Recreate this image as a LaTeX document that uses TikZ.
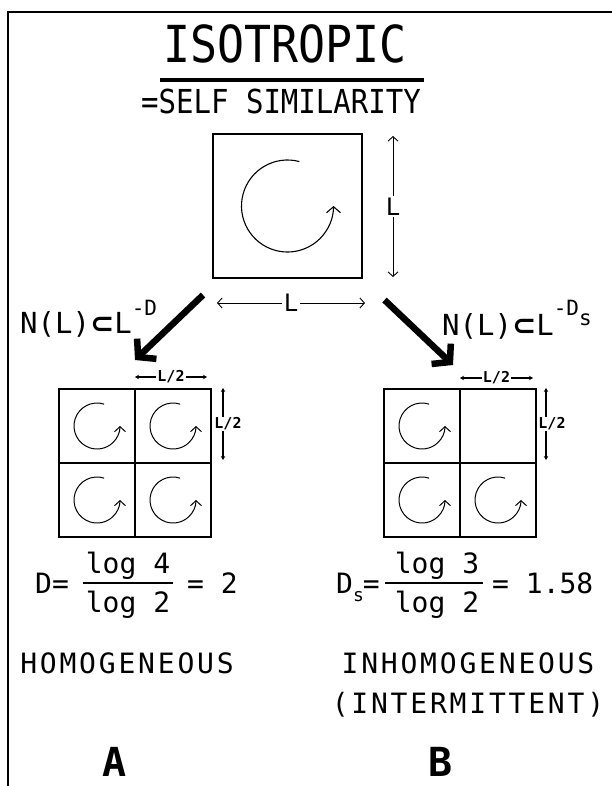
\documentclass[tikz,border=0pt]{standalone}
\usepackage{fontspec}
\usetikzlibrary{arrows.meta,calc}
\setmainfont{DejaVu Sans Mono}
\newfontfamily\plotn[FakeStretch=0.88]{DejaVu Sans Mono}
\newfontfamily\plotw[LetterSpace=10]{DejaVu Sans Mono}
\newfontfamily\symb{DejaVu Sans}
\newcommand{\fs}[1]{\fontsize{#1}{#1}\selectfont}

\begin{document}
\begin{tikzpicture}[x=1pt, y=1pt,
  borderline/.style={line width=1.4pt},
  sq/.style={draw, line width=1.4pt, inner sep=0pt, outer sep=0pt},
  cell/.style={sq, minimum width=76pt, minimum height=74pt},
  vort/.style={line width=1.1pt, -{Straight Barb[length=6pt,width=14pt]}},
  vortsmall/.style={line width=1pt, -{Straight Barb[length=5pt,width=11pt]}},
  dimarrow/.style={line width=0.9pt, {Straight Barb[length=4.5pt,width=10pt]}-{Straight Barb[length=4.5pt,width=10pt]}},
  halfdim/.style={line width=1.1pt, {Stealth[length=4pt,width=4.5pt]}-{Stealth[length=4pt,width=4.5pt]}},
  dimlab/.style={fill=white, inner sep=1.5pt, font=\fs{24}},
  halflab/.style={fill=white, inner sep=1pt, font=\bfseries\fs{15}},
  bigarrow/.style={line width=6.5pt, -{Straight Barb[length=12pt,width=28pt]}},
  lab/.style={font=\fs{29}, inner sep=0pt},
  frm/.style={font=\fs{28}, inner sep=0pt},
  fracbar/.style={line width=1.3pt},
  word/.style={font=\plotw\fs{28}},
  letter/.style={font=\bfseries\fs{40}},
]
\useasboundingbox (0,0) rectangle (612,-786);

% ------------------------------------------------------------ frame
\draw[borderline] (612,-12) -- (8,-12) -- (8,-786);

% ------------------------------------------------------------ title
\node[font=\plotn\fs{51}] (title) at (285,-44) {ISOTROPIC};
\node[font=\plotn\fs{33}] (sub) at (281,-101) {=SELF SIMILARITY};
\coordinate (ul) at (0,-80);
\draw[line width=4pt] (title.west |- ul) -- (sub.east |- ul);

% ------------------------------------------------------------ big eddy
\node[sq, minimum width=149pt, minimum height=144pt] (big) at (287.5,-206) {};
\draw[vort] ([shift={(75:46)}]big.center) arc[start angle=75, end angle=360, radius=46];
\draw[dimarrow] ([shift={(31pt,-2pt)}]big.north east) -- node[dimlab] (lv) {L}
  ([shift={(31pt,1pt)}]big.south east);
\draw[dimarrow] ([shift={(4pt,-25pt)}]big.south west) -- node[dimlab] (lh) {L}
  ([shift={(3pt,-25pt)}]big.south east);

% ------------------------------------------------------------ cells
\foreach \c/\x/\y in {a11/97/426, a12/173/426, a21/97/500, a22/173/500,
                      b11/422/426, b12/498/426, b21/422/500, b22/498/500}
  \node[cell] (\c) at (\x,-\y) {};
\foreach \c in {a11,a12,a21,a22,b11,b21,b22}
  \draw[vortsmall] ([shift={(72:23)}]\c.center) arc[start angle=72, end angle=360, radius=23];

\draw[halfdim] ([yshift=12pt]a12.north west) -- node[halflab] (la) {L/2}
  ([shift={(-4pt,12pt)}]a12.north east);
\draw[halfdim] ([shift={(12pt,1pt)}]a12.north east) -- node[halflab, xshift=5pt] (lb) {L/2}
  ([shift={(12pt,3pt)}]a12.south east);
\draw[halfdim] ([yshift=11pt]b12.north west) -- node[halflab] (lc) {L/2}
  ([shift={(-3pt,11pt)}]b12.north east);
\draw[halfdim] ([shift={(10pt,1pt)}]b12.north east) -- node[halflab, xshift=6pt] (ld) {L/2}
  ([shift={(10pt,3pt)}]b12.south east);

% ------------------------------------------------------------ cascade
\draw[bigarrow] ([shift={(-10pt,-17pt)}]big.south west) -- ([yshift=29pt]a11.north east);
\draw[bigarrow] ([shift={(22.5pt,-22pt)}]big.south east) -- ([shift={(-7pt,24pt)}]b12.north west);
\node[lab, anchor=base west] (pa) at (20,-333)
  {N(L){\symb\bfseries ⊂}L\raisebox{18pt}{\fs{21}-D}};
\node[lab, anchor=base west] (pb) at (442,-335)
  {N(L){\symb\bfseries ⊂}L\raisebox{20pt}{\fs{21}-D\raisebox{-10pt}{s}}};

% ------------------------------------------------------------ dimensions
\node[frm, anchor=base west] (da) at (35,-593) {D=};
\node[frm, anchor=base] (na) at (128,-573) {log 4};
\node[frm, anchor=base] (ma) at (128,-612) {log 2};
\node[frm, anchor=base west] (ea) at (187,-593) {= 2};
\draw[fracbar] ([shift={(14pt,10pt)}]da.base east) -- ([shift={(-14pt,10pt)}]ea.base west);

\node[frm, anchor=base west] (db) at (336,-593) {D\raisebox{-8pt}{\fs{18}s}\kern-1pt=};
\node[frm, anchor=base] (nb) at (437,-573) {log 3};
\node[frm, anchor=base] (mb) at (437,-612) {log 2};
\node[frm, anchor=base west] (eb) at (492,-593) {= 1.58};
\draw[fracbar] ([shift={(5pt,10pt)}]db.base east) -- ([shift={(-9pt,10pt)}]eb.base west);

% ------------------------------------------------------------ cases
\node[word] (hom) at (127,-663) {HOMOGENEOUS};
\node[word] (inh) at (468,-663) {INHOMOGENEOUS};
\node[word] (int) at (468,-705) {(INTERMITTENT)};
\node[letter] (caseA) at (115,-762) {A};
\node[letter] (caseB) at (441,-762) {B};
\end{tikzpicture}
\end{document}
